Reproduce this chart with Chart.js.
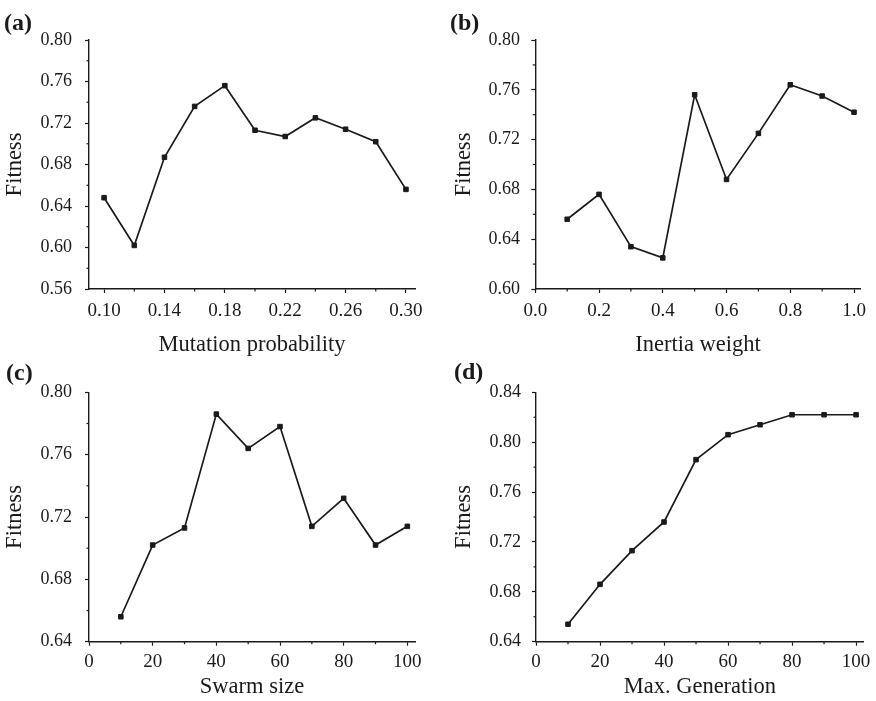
<!DOCTYPE html>
<html><head><meta charset="utf-8">
<script src="https://cdn.jsdelivr.net/npm/chart.js@4/dist/chart.umd.min.js"></script>
<style>
html,body{margin:0;padding:0;background:#fff;}
body{width:876px;height:701px;position:relative;overflow:hidden;}
canvas{position:absolute;}
.lbl{position:absolute;font:bold 24px "Liberation Serif",serif;line-height:24px;color:#1a1a1a;}
</style></head><body>
<canvas id="ca" width="438" height="360" style="left:0;top:0"></canvas>
<canvas id="cb" width="438" height="360" style="left:438px;top:0"></canvas>
<canvas id="cc" width="438" height="351" style="left:0;top:350px"></canvas>
<canvas id="cd" width="438" height="351" style="left:438px;top:350px"></canvas>
<div class="lbl" style="left:4px;top:10px">(a)</div>
<div class="lbl" style="left:450px;top:10px">(b)</div>
<div class="lbl" style="left:6px;top:360px">(c)</div>
<div class="lbl" style="left:454px;top:359px">(d)</div>
<script>
// ---- data ----
const mutationProbability = [0.10, 0.12, 0.14, 0.16, 0.18, 0.20, 0.22, 0.24, 0.26, 0.28, 0.30];
const fitnessMutation     = [0.648, 0.602, 0.687, 0.736, 0.756, 0.713, 0.707, 0.725, 0.714, 0.702, 0.656];

const inertiaWeight   = [0.1, 0.2, 0.3, 0.4, 0.5, 0.6, 0.7, 0.8, 0.9, 1.0];
const fitnessInertia  = [0.656, 0.676, 0.634, 0.625, 0.756, 0.688, 0.725, 0.764, 0.755, 0.742];

const swarmSize    = [10, 20, 30, 40, 50, 60, 70, 80, 90, 100];
const fitnessSwarm = [0.656, 0.702, 0.713, 0.786, 0.764, 0.778, 0.714, 0.732, 0.702, 0.714];

const maxGeneration     = [10, 20, 30, 40, 50, 60, 70, 80, 90, 100];
const fitnessGeneration = [0.654, 0.686, 0.713, 0.736, 0.786, 0.806, 0.814, 0.822, 0.822, 0.822];

// ---- tick labels ----
const xTicksA = [0.10, 0.14, 0.18, 0.22, 0.26, 0.30];
const xMinorA = [0.12, 0.16, 0.20, 0.24, 0.28];
const yTicksA = [0.56, 0.60, 0.64, 0.68, 0.72, 0.76, 0.80];
const yMinorA = [0.58, 0.62, 0.66, 0.70, 0.74, 0.78];

const xTicksB = [0.0, 0.2, 0.4, 0.6, 0.8, 1.0];
const xMinorB = [0.1, 0.3, 0.5, 0.7, 0.9];
const yTicksB = [0.60, 0.64, 0.68, 0.72, 0.76, 0.80];
const yMinorB = [0.62, 0.66, 0.70, 0.74, 0.78];

const xTicksC = [0, 20, 40, 60, 80, 100];
const xMinorC = [10, 30, 50, 70, 90];
const yTicksC = [0.64, 0.68, 0.72, 0.76, 0.80];
const yMinorC = [0.66, 0.70, 0.74, 0.78];

const xTicksD = [0, 20, 40, 60, 80, 100];
const xMinorD = [10, 30, 50, 70, 90];
const yTicksD = [0.64, 0.68, 0.72, 0.76, 0.80, 0.84];
const yMinorD = [0.66, 0.70, 0.74, 0.78, 0.82];

const INK = '#1a1a1a';
const FONT = '"Liberation Serif", "Times New Roman", serif';

const minorTickPlugin = {
  id: 'minorTicks',
  afterDraw(chart, args, opts) {
    const ctx = chart.ctx;
    const xs = chart.scales.x, ys = chart.scales.y;
    ctx.save();
    ctx.strokeStyle = INK;
    ctx.lineWidth = 1.2;
    const len = 2.5;
    (opts.x || []).forEach(v => {
      const px = xs.getPixelForValue(v);
      ctx.beginPath(); ctx.moveTo(px, xs.top); ctx.lineTo(px, xs.top + len); ctx.stroke();
    });
    (opts.y || []).forEach(v => {
      const py = ys.getPixelForValue(v);
      ctx.beginPath(); ctx.moveTo(ys.right, py); ctx.lineTo(ys.right - len, py); ctx.stroke();
    });
    ctx.restore();
  }
};

function makeChart(id, p) {
  const pts = p.xs.map((x, i) => ({ x: x, y: p.ys[i] }));
  return new Chart(document.getElementById(id), {
    type: 'line',
    data: { datasets: [{
      data: pts,
      borderColor: INK,
      borderWidth: 1.7,
      tension: 0,
      pointStyle: 'rect',
      pointRadius: 3.2,
      pointBackgroundColor: INK,
      pointBorderColor: INK,
      pointBorderWidth: 1
    }]},
    plugins: [minorTickPlugin],
    options: {
      responsive: false,
      animation: false,
      devicePixelRatio: 1,
      layout: { padding: p.pad },
      plugins: {
        legend: { display: false },
        tooltip: { enabled: false },
        minorTicks: { x: p.xMinor, y: p.yMinor }
      },
      scales: {
        x: {
          type: 'linear',
          min: p.xMin, max: p.xMax,
          afterBuildTicks: s => { s.ticks = p.xTicks.map(v => ({ value: v })); },
          afterFit: s => { s.height = p.xHeight; },
          grid: { drawOnChartArea: false, drawTicks: true, tickLength: 4, tickColor: INK, tickWidth: 1.2 },
          border: { display: true, color: INK, width: 1.4 },
          ticks: {
            autoSkip: false, maxRotation: 0, padding: p.xTickPad,
            color: INK, font: { family: FONT, size: 19 },
            callback: v => v.toFixed(p.xDec)
          },
          title: {
            display: true, text: p.xTitle, color: INK,
            font: { family: FONT, size: 22.5 },
            padding: { top: 0, bottom: p.xTitlePb }
          }
        },
        y: {
          type: 'linear',
          min: p.yMin, max: p.yMax,
          afterBuildTicks: s => { s.ticks = p.yTicks.map(v => ({ value: v })); },
          afterFit: s => { s.width = p.yWidth; },
          grid: { drawOnChartArea: false, drawTicks: true, tickLength: 4, tickColor: INK, tickWidth: 1.2 },
          border: { display: true, color: INK, width: 1.4 },
          ticks: {
            autoSkip: false, padding: p.yTickPad,
            color: INK, font: { family: FONT, size: 18 },
            callback: v => v.toFixed(2)
          },
          title: {
            display: true, text: 'Fitness', color: INK,
            font: { family: FONT, size: 22.5 },
            padding: { top: p.yTitlePt, bottom: 0 }
          }
        }
      }
    }
  });
}

makeChart('ca', {
  xs: mutationProbability, ys: fitnessMutation,
  xMin: 0.09, xMax: 0.306, yMin: 0.56, yMax: 0.80,
  xTicks: xTicksA, yTicks: yTicksA, xMinor: xMinorA, yMinor: yMinorA, xDec: 2,
  xTitle: 'Mutation probability',
  pad: { top: 40, right: 23, left: 0, bottom: 0 },
  yWidth: 89, xHeight: 71, xTitlePb: 1.7, yTitlePt: 2, xTickPad: 6.4, yTickPad: 13
});
makeChart('cb', {
  xs: inertiaWeight, ys: fitnessInertia,
  xMin: 0.0, xMax: 1.021, yMin: 0.60, yMax: 0.80,
  xTicks: xTicksB, yTicks: yTicksB, xMinor: xMinorB, yMinor: yMinorB, xDec: 1,
  xTitle: 'Inertia weight',
  pad: { top: 40, right: 15.3, left: 0, bottom: 0 },
  yWidth: 97.3, xHeight: 71, xTitlePb: 1.7, yTitlePt: 12.5, xTickPad: 6.4, yTickPad: 11.3
});
makeChart('cc', {
  xs: swarmSize, ys: fitnessSwarm,
  xMin: 0, xMax: 102.4, yMin: 0.64, yMax: 0.80,
  xTicks: xTicksC, yTicks: yTicksC, xMinor: xMinorC, yMinor: yMinorC, xDec: 0,
  xTitle: 'Swarm size',
  pad: { top: 42.3, right: 23, left: 0, bottom: 0 },
  yWidth: 89, xHeight: 59.3, xTitlePb: 0, yTitlePt: 2, xTickPad: 5.4, yTickPad: 13
});
makeChart('cd', {
  xs: maxGeneration, ys: fitnessGeneration,
  xMin: 0, xMax: 102.4, yMin: 0.64, yMax: 0.84,
  xTicks: xTicksD, yTicks: yTicksD, xMinor: xMinorD, yMinor: yMinorD, xDec: 0,
  xTitle: 'Max. Generation',
  pad: { top: 42.3, right: 12, left: 0, bottom: 0 },
  yWidth: 98, xHeight: 59.3, xTitlePb: 0, yTitlePt: 12.5, xTickPad: 5.4, yTickPad: 11
});
</script>
</body></html>
